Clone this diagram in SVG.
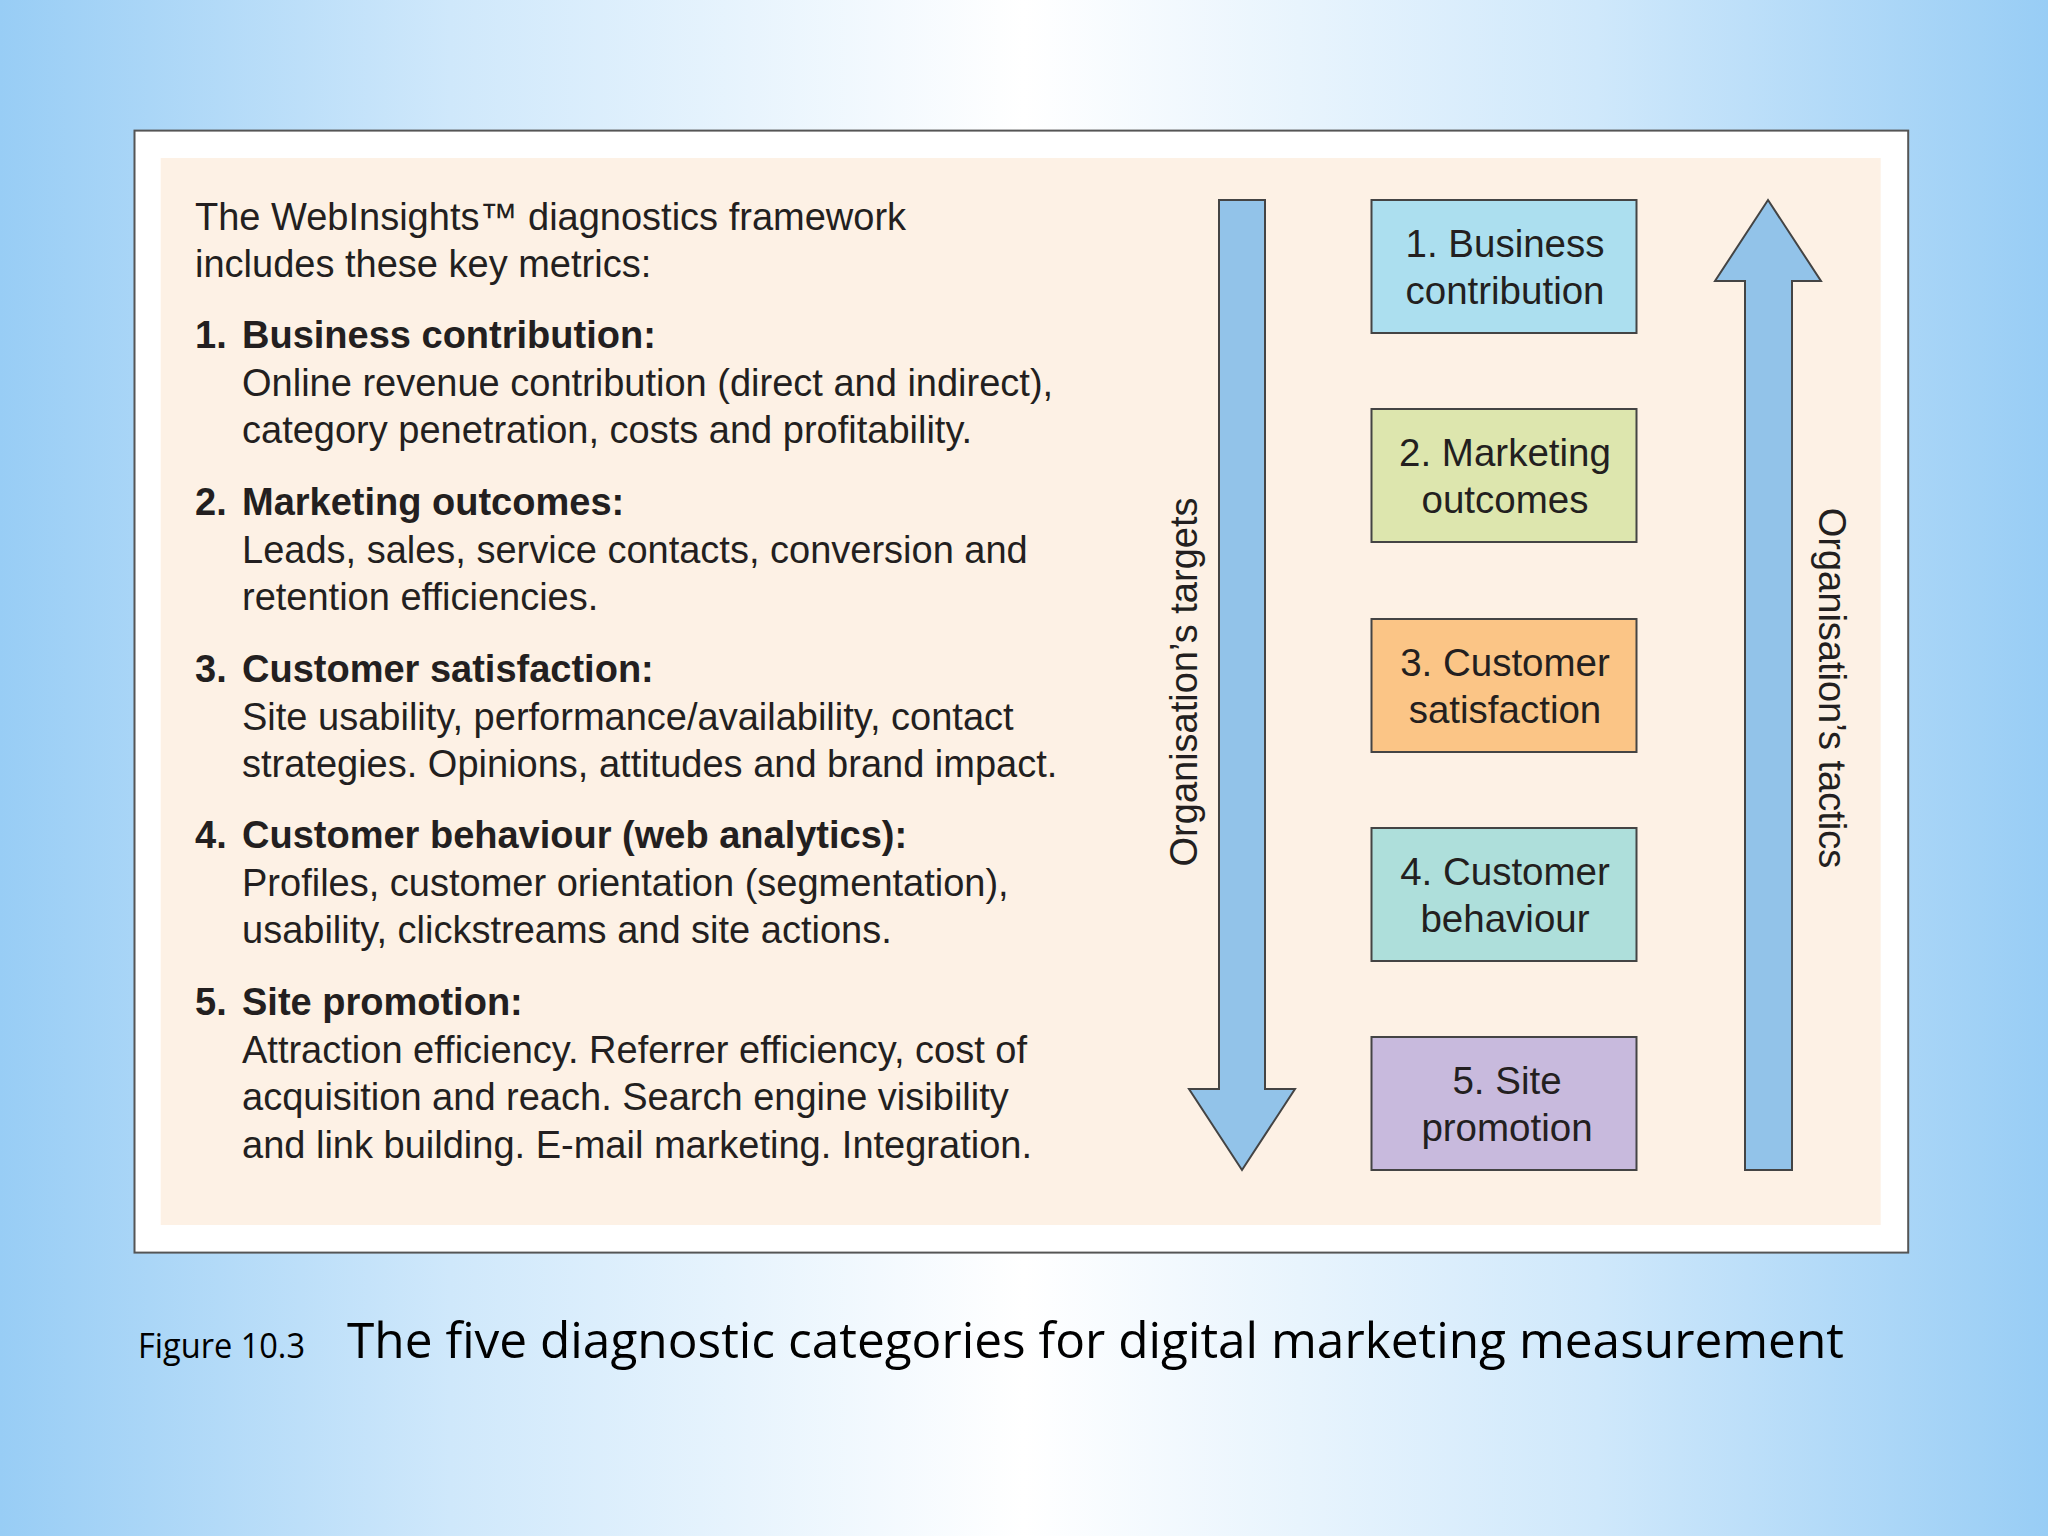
<svg xmlns="http://www.w3.org/2000/svg" width="2048" height="1536" viewBox="0 0 2048 1536">
<defs>
<linearGradient id="bgH" x1="0" y1="0" x2="1" y2="0">
<stop offset="0" stop-color="#98cdf5"/>
<stop offset="0.22" stop-color="#cfe8fb"/>
<stop offset="0.5" stop-color="#ffffff"/>
<stop offset="0.78" stop-color="#cfe8fb"/>
<stop offset="1" stop-color="#98cdf5"/>
</linearGradient>
<radialGradient id="glowTop" cx="0.5" cy="0" r="0.5">
<stop offset="0" stop-color="#ffffff" stop-opacity="1"/>
<stop offset="1" stop-color="#ffffff" stop-opacity="0"/>
</radialGradient>
<radialGradient id="glowBot" cx="0.5" cy="1" r="0.5">
<stop offset="0" stop-color="#ffffff" stop-opacity="1"/>
<stop offset="1" stop-color="#ffffff" stop-opacity="0"/>
</radialGradient>
<style>
.t{font-family:"Liberation Sans",Arial,Helvetica,sans-serif;font-size:38px;fill:#231f20}
.b{font-weight:bold}
.box{stroke:#444;stroke-width:2}
.arrow{fill:#92c3e9;stroke:#444;stroke-width:2;stroke-linejoin:miter}
.bt{font-family:"Liberation Sans",Arial,Helvetica,sans-serif;font-size:38.5px;fill:#231f20;text-anchor:middle}
.cap{font-family:"Open Sans","DejaVu Sans",sans-serif;fill:#000}
</style>
</defs>
<rect x="0" y="0" width="2048" height="1536" fill="url(#bgH)"/>
<ellipse cx="1024" cy="0" rx="1000" ry="420" fill="url(#glowTop)"/>
<ellipse cx="1024" cy="1536" rx="1000" ry="420" fill="url(#glowBot)"/>

<g id="frame">
<rect x="134.5" y="130.6" width="1773.7" height="1122" fill="#ffffff" stroke="#555" stroke-width="2"/>
<rect x="160.7" y="158" width="1720" height="1067" fill="#fdf1e5"/>
</g>

<g id="metrics-text" class="t">
<text class="t" x="195" y="230">The WebInsights™ diagnostics framework</text>
<text class="t" x="195" y="277">includes these key metrics:</text>

<text class="t b" x="195" y="348">1.</text>
<text class="t b" x="242" y="348">Business contribution:</text>
<text class="t" x="242" y="396">Online revenue contribution (direct and indirect),</text>
<text class="t" x="242" y="443">category penetration, costs and profitability.</text>

<text class="t b" x="195" y="514.75">2.</text>
<text class="t b" x="242" y="514.75">Marketing outcomes:</text>
<text class="t" x="242" y="562.75">Leads, sales, service contacts, conversion and</text>
<text class="t" x="242" y="609.75">retention efficiencies.</text>

<text class="t b" x="195" y="681.5">3.</text>
<text class="t b" x="242" y="681.5">Customer satisfaction:</text>
<text class="t" x="242" y="729.5">Site usability, performance/availability, contact</text>
<text class="t" x="242" y="776.5">strategies. Opinions, attitudes and brand impact.</text>

<text class="t b" x="195" y="848.25">4.</text>
<text class="t b" x="242" y="848.25">Customer behaviour (web analytics):</text>
<text class="t" x="242" y="896.25">Profiles, customer orientation (segmentation),</text>
<text class="t" x="242" y="943.25">usability, clickstreams and site actions.</text>

<text class="t b" x="195" y="1015">5.</text>
<text class="t b" x="242" y="1015">Site promotion:</text>
<text class="t" x="242" y="1063">Attraction efficiency. Referrer efficiency, cost of</text>
<text class="t" x="242" y="1110">acquisition and reach. Search engine visibility</text>
<text class="t" x="242" y="1158">and link building. E-mail marketing. Integration.</text>
</g>

<g id="connectors">
<g id="arrow-targets">
<polygon class="arrow" points="1219,200 1265,200 1265,1089 1295,1089 1242,1170 1189,1089 1219,1089"/>
<text class="t" transform="translate(1197,682) rotate(-90)" text-anchor="middle">Organisation’s targets</text>
</g>
<g id="arrow-tactics">
<polygon class="arrow" points="1768,200 1821,281 1792,281 1792,1170 1745,1170 1745,281 1715,281"/>
<text class="t" transform="translate(1819,688) rotate(90)" text-anchor="middle">Organisation’s tactics</text>
</g>
</g>

<g id="node1">
<rect class="box" x="1371.5" y="200" width="265" height="133" fill="#acdfef"/>
<text class="bt" x="1505" y="257">1. Business</text>
<text class="bt" x="1505" y="303.5">contribution</text>
</g>
<g id="node2">
<rect class="box" x="1371.5" y="409" width="265" height="133" fill="#dde6ae"/>
<text class="bt" x="1505" y="466">2. Marketing</text>
<text class="bt" x="1505" y="512.5">outcomes</text>
</g>
<g id="node3">
<rect class="box" x="1371.5" y="619" width="265" height="133" fill="#fbc586"/>
<text class="bt" x="1505" y="676">3. Customer</text>
<text class="bt" x="1505" y="722.5">satisfaction</text>
</g>
<g id="node4">
<rect class="box" x="1371.5" y="828" width="265" height="133" fill="#aedfdb"/>
<text class="bt" x="1505" y="885">4. Customer</text>
<text class="bt" x="1505" y="931.5">behaviour</text>
</g>
<g id="node5">
<rect class="box" x="1371.5" y="1037" width="265" height="133" fill="#c8badd"/>
<text class="bt" x="1507" y="1094">5. Site</text>
<text class="bt" x="1507" y="1140.5">promotion</text>
</g>

<g id="caption">
<text class="cap" x="138" y="1358" font-size="34" textLength="167" lengthAdjust="spacingAndGlyphs">Figure 10.3</text>
<text class="cap" x="347" y="1358" font-size="50" textLength="1497" lengthAdjust="spacingAndGlyphs">The five diagnostic categories for digital marketing measurement</text>
</g>
</svg>
